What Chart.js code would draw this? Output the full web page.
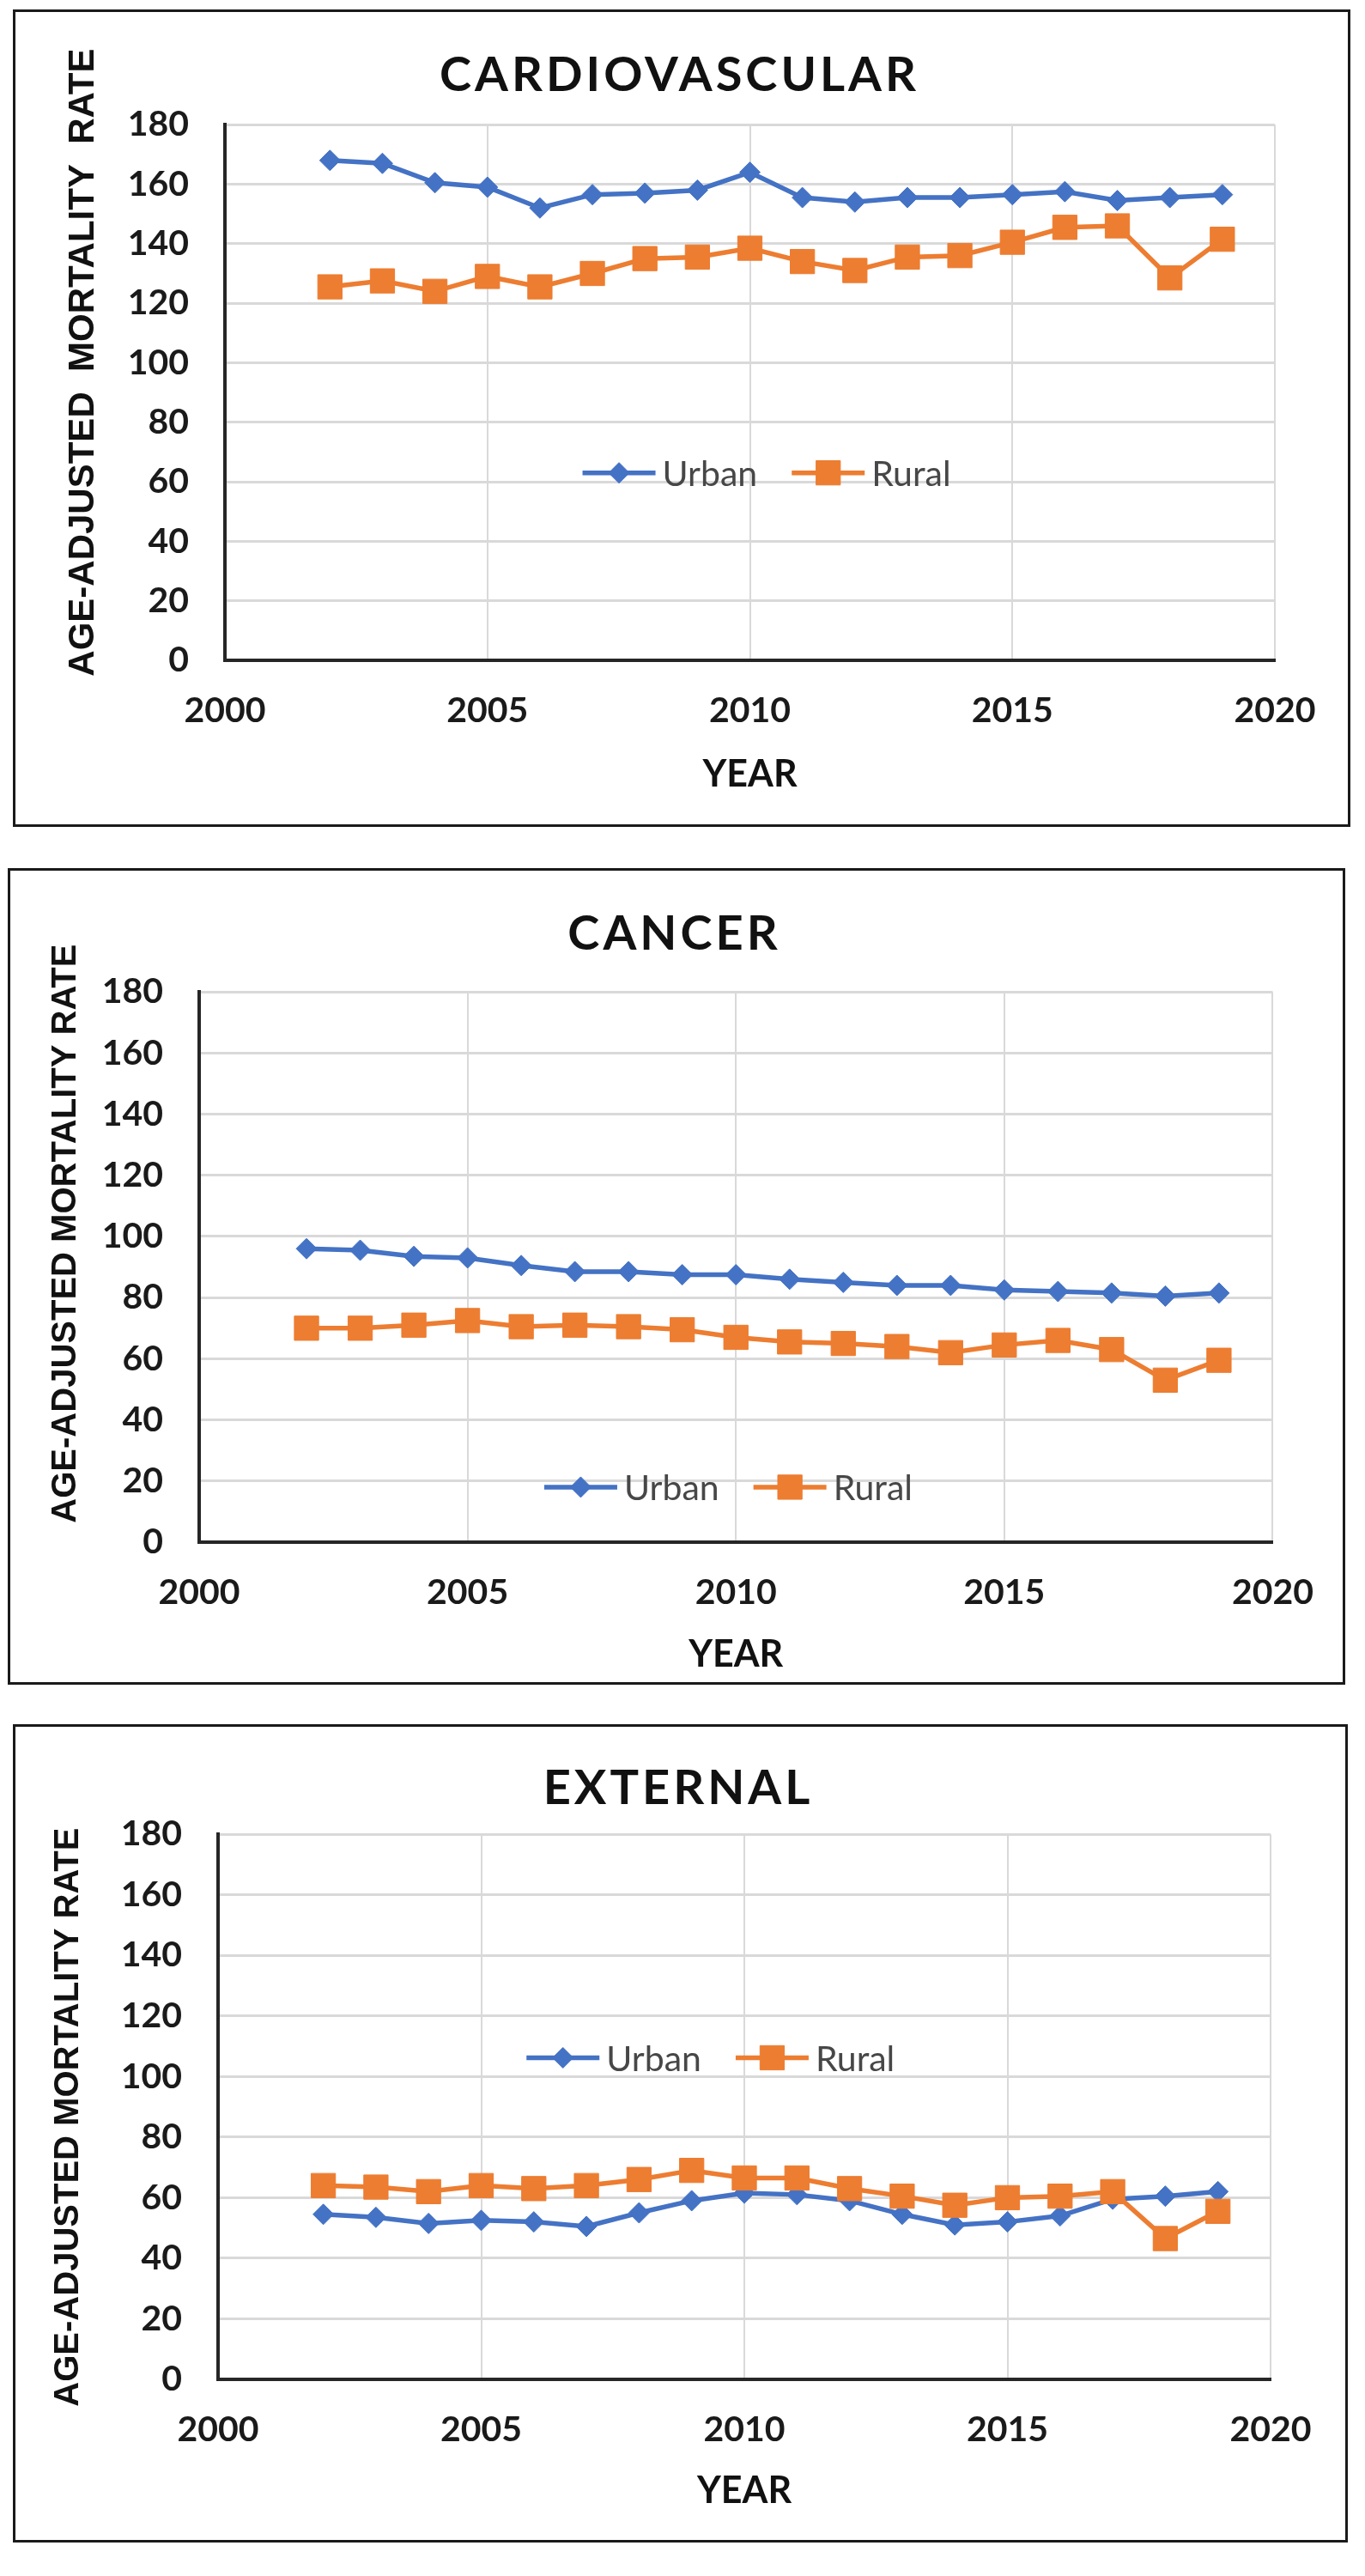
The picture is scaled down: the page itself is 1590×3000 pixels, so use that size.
<!DOCTYPE html>
<html>
<head>
<meta charset="utf-8">
<script src="https://cdn.jsdelivr.net/npm/chart.js@4.4.1/dist/chart.umd.min.js"></script>
<style>
    html, body { margin: 0; padding: 0; background: #fff; }
    body { width: 1590px; height: 3000px; position: relative; overflow: hidden; }
    .panel { position: absolute; border: 3px solid #1a1a1a; box-sizing: border-box; background: #fff; }
    .panel canvas { display: block; }
</style>
</head>
<body>
<div class="panel" style="left:15px;top:11px;width:1558px;height:952px"><canvas id="cardio" width="1552" height="946"></canvas></div>
<div class="panel" style="left:9px;top:1011px;width:1558px;height:951px"><canvas id="cancer" width="1552" height="945"></canvas></div>
<div class="panel" style="left:15px;top:2008px;width:1555px;height:953px"><canvas id="external" width="1549" height="947"></canvas></div>

<script>
// #### Data
const years = [2002, 2003, 2004, 2005, 2006, 2007, 2008, 2009, 2010, 2011, 2012, 2013, 2014, 2015, 2016, 2017, 2018, 2019];

const cardioUrban = [168, 167, 160.5, 159, 152, 156.5, 157, 158, 164, 155.5, 154, 155.5, 155.5, 156.5, 157.5, 154.5, 155.5, 156.5];
const cardioRural = [125.5, 127.5, 124, 129, 125.5, 130, 135, 135.5, 138.5, 134, 131, 135.5, 136, 140.5, 145.5, 146, 128.5, 141.5];

const cancerUrban = [96, 95.5, 93.5, 93, 90.5, 88.5, 88.5, 87.5, 87.5, 86, 85, 84, 84, 82.5, 82, 81.5, 80.5, 81.5];
const cancerRural = [70, 70, 71, 72.5, 70.5, 71, 70.5, 69.5, 67, 65.5, 65, 64, 62, 64.5, 66, 63, 53, 59.5];

const externalUrban = [54.5, 53.5, 51.5, 52.5, 52, 50.5, 55, 59, 61.5, 61, 59, 54.5, 51, 52, 54, 59.5, 60.5, 62];
const externalRural = [64, 63.5, 62, 64, 63, 64, 66, 69, 66.5, 66.5, 63, 60.5, 57.5, 60, 60.5, 62, 46.5, 55.5];

const xTicks = { min: 2000, max: 2020, step: 5 };
const yTicks = { min: 0, max: 180, step: 20 };

const URBAN_BLUE = '#4472C4';
const RURAL_ORANGE = '#ED7D31';

function toPoints(values) {
    return years.map((year, i) => ({ x: year, y: values[i] }));
}

// #### Plugins
// legend drawn inside the plot area, like the Excel one
const innerLegend = {
    id: 'innerLegend',
    afterDatasetsDraw(chart, args, opts) {
        const { ctx, chartArea: a } = chart;
        const cx = a.left + opts.x * (a.right - a.left);
        const cy = a.top + opts.y * (a.bottom - a.top);
        const sample = 85, textGap = 8, itemGap = 40;
        ctx.save();
        ctx.font = '400 41px Lato';
        const items = chart.data.datasets.map(ds => ({ ds, w: sample + textGap + ctx.measureText(ds.label).width }));
        const total = items.reduce((s, it) => s + it.w, 0) + itemGap * (items.length - 1);
        let x = cx - total / 2;
        items.forEach(({ ds, w }) => {
            ctx.strokeStyle = ds.borderColor;
            ctx.lineWidth = ds.borderWidth;
            ctx.beginPath();
            ctx.moveTo(x, cy);
            ctx.lineTo(x + sample, cy);
            ctx.stroke();
            ctx.fillStyle = ds.pointBackgroundColor;
            ctx.strokeStyle = ds.pointBorderColor;
            ctx.lineWidth = 1;
            Chart.helpers.drawPoint(ctx, { pointStyle: ds.pointStyle, radius: ds.pointRadius, rotation: 0, borderWidth: 1 }, x + sample / 2, cy);
            ctx.fillStyle = '#474747';
            ctx.textBaseline = 'middle';
            ctx.textAlign = 'left';
            ctx.fillText(ds.label, x + sample + textGap, cy + 2);
            x += w + itemGap;
        });
        ctx.restore();
    }
};

// letter spaced chart title, shifted like the hand placed Excel one
const spacedTitle = {
    id: 'spacedTitle',
    beforeDraw(chart, args, opts) {
        const block = chart.titleBlock;
        if (!block || block._spaced) return;
        const draw = block.draw.bind(block);
        block.draw = function (area) {
            chart.ctx.save();
            chart.ctx.translate(opts.dx, 0);
            chart.ctx.letterSpacing = opts.spacing + 'px';
            draw(area);
            chart.ctx.restore();
        };
        block._spaced = true;
    }
};

// y axis title sits a bit off centre in the original
const nudgeAxisTitle = {
    id: 'nudgeAxisTitle',
    beforeDraw(chart, args, opts) {
        const scale = chart.scales.y;
        if (!scale || scale._nudged) return;
        const drawTitle = scale.drawTitle.bind(scale);
        scale.drawTitle = function () {
            chart.ctx.save();
            chart.ctx.translate(0, opts.dy);
            drawTitle();
            chart.ctx.restore();
        };
        scale._nudged = true;
    }
};

// #### Charts
function makeChart(id, p, urban, rural) {
    const tickFont = { family: 'Lato', weight: 'bold', size: 41 };
    return new Chart(document.getElementById(id), {
        type: 'line',
        data: {
            datasets: [{
                label: 'Urban',
                data: toPoints(urban),
                borderColor: URBAN_BLUE,
                backgroundColor: URBAN_BLUE,
                pointBackgroundColor: URBAN_BLUE,
                pointBorderColor: URBAN_BLUE,
                borderWidth: 5.5,
                pointStyle: 'rectRot',
                pointRadius: 12,
                pointBorderWidth: 1,
                tension: 0,
                order: 1
            }, {
                label: 'Rural',
                data: toPoints(rural),
                borderColor: RURAL_ORANGE,
                backgroundColor: RURAL_ORANGE,
                pointBackgroundColor: RURAL_ORANGE,
                pointBorderColor: RURAL_ORANGE,
                borderWidth: 5.5,
                pointStyle: 'rect',
                pointRadius: 20,
                pointBorderWidth: 1,
                tension: 0,
                order: 0
            }]
        },
        plugins: [innerLegend, spacedTitle, nudgeAxisTitle],
        options: {
            responsive: false,
            animation: false,
            events: [],
            layout: { padding: { left: 0, top: 0, right: p.padRight, bottom: 0 } },
            plugins: {
                legend: { display: false },
                tooltip: { enabled: false },
                title: {
                    display: true,
                    text: p.title,
                    color: '#111',
                    font: { family: 'Lato', weight: 'bold', size: 56, lineHeight: 1.2 },
                    padding: { top: p.titleTop, bottom: p.titleBottom }
                },
                spacedTitle: { spacing: 4, dx: p.titleDx },
                nudgeAxisTitle: { dy: p.yTitleDy },
                innerLegend: { x: p.legendX, y: p.legendY }
            },
            scales: {
                x: {
                    type: 'linear',
                    min: xTicks.min,
                    max: xTicks.max,
                    afterFit: s => { s.height = p.xHeight; },
                    ticks: { stepSize: xTicks.step, padding: 34, color: '#1a1a1a', font: tickFont, callback: v => String(v) },
                    grid: { color: c => c.tick && c.tick.value === xTicks.min ? 'rgba(0,0,0,0)' : '#d9d9d9', lineWidth: 2, drawTicks: false },
                    border: { color: '#262626', width: 4 },
                    title: {
                        display: true,
                        text: 'YEAR',
                        color: '#111',
                        font: { family: 'Lato', weight: 'bold', size: 43, lineHeight: 1.2 },
                        padding: { top: 0, bottom: p.xTitleBottom }
                    }
                },
                y: {
                    min: yTicks.min,
                    max: yTicks.max,
                    afterFit: s => { s.width = p.yWidth; },
                    ticks: { stepSize: yTicks.step, padding: 42, color: '#1a1a1a', font: tickFont },
                    grid: { color: '#d9d9d9', lineWidth: 3, drawTicks: false },
                    border: { color: '#262626', width: 4 },
                    title: {
                        display: true,
                        text: p.yTitle,
                        color: '#111',
                        font: { family: 'Liberation Sans', weight: 'bold', size: p.yTitleSize, lineHeight: 1.2 },
                        padding: { top: p.yTitleLeft, bottom: 0 }
                    }
                }
            }
        }
    });
}

makeChart('cardio', {
    title: 'CARDIOVASCULAR', yTitle: 'AGE-ADJUSTED  MORTALITY  RATE', yTitleSize: 42,
    padRight: 85, yWidth: 244, xHeight: 191,
    titleTop: 40, titleBottom: 24, titleDx: 40, xTitleBottom: 32, yTitleLeft: 54, yTitleDy: -35,
    legendX: 0.516, legendY: 0.65
}, cardioUrban, cardioRural);

makeChart('cancer', {
    title: 'CANCER', yTitle: 'AGE-ADJUSTED MORTALITY RATE', yTitleSize: 40,
    padRight: 77, yWidth: 220, xHeight: 163,
    titleTop: 40, titleBottom: 34, titleDx: 36, xTitleBottom: 6, yTitleLeft: 41, yTitleDy: -39,
    legendX: 0.493, legendY: 0.90
}, cancerUrban, cancerRural);

makeChart('external', {
    title: 'EXTERNAL', yTitle: 'AGE-ADJUSTED MORTALITY RATE', yTitleSize: 40,
    padRight: 87, yWidth: 236, xHeight: 187,
    titleTop: 38, titleBottom: 20, titleDx: 41, xTitleBottom: 31, yTitleLeft: 38, yTitleDy: 12,
    legendX: 0.468, legendY: 0.41
}, externalUrban, externalRural);
</script>
</body>
</html>
